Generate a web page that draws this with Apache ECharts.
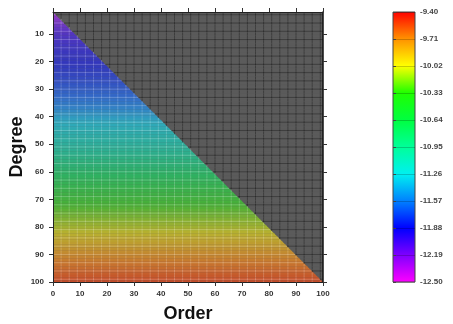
<!DOCTYPE html>
<html>
<head>
<meta charset="utf-8">
<script src="https://cdn.jsdelivr.net/npm/echarts@6/dist/echarts.min.js"></script>
<style>
  html, body { margin: 0; padding: 0; background: #fff; }
  #chart { width: 453px; height: 324px; }
</style>
</head>
<body>
<div id="chart"></div>
<script>
// value per degree row (degree 2 .. 100)
const rowValues = [
  -12.45, -12.42, -12.38, -12.34, -12.30, -12.26, -12.22, -12.18, -12.14,
  -12.10, -12.07, -12.04, -12.01, -11.98, -11.96, -11.94, -11.92, -11.90, -11.89,
  -11.88, -11.86, -11.84, -11.82, -11.80, -11.78, -11.76, -11.73, -11.70, -11.68,
  -11.65, -11.62, -11.59, -11.56, -11.53, -11.50, -11.47, -11.43, -11.39, -11.35,
  -11.31, -11.27, -11.23, -11.19, -11.15, -11.12, -11.08, -11.05, -11.02, -10.99,
  -10.96, -10.93, -10.90, -10.87, -10.84, -10.81, -10.78, -10.75, -10.72, -10.69,
  -10.66, -10.63, -10.60, -10.57, -10.54, -10.51, -10.48, -10.45, -10.42, -10.39,
  -10.36, -10.33, -10.30, -10.27, -10.24, -10.21, -10.18, -10.15, -10.12, -10.09,
  -10.06, -10.03, -10.00, -9.97, -9.94, -9.91, -9.88, -9.85, -9.82, -9.79,
  -9.76, -9.73, -9.70, -9.67, -9.64, -9.61, -9.58, -9.55, -9.52, -9.49
];
const degrees = rowValues.map((v, i) => i + 2);

const degreeTicks = [10, 20, 30, 40, 50, 60, 70, 80, 90, 100];
const colorbarLabels = ['-12.50', '-12.19', '-11.88', '-11.57', '-11.26', '-10.95',
  '-10.64', '-10.33', '-10.02', '-9.71', '-9.40'];
const valueMin = -12.5;
const valueMax = -9.4;

// colour scale of the bar (bright) and of the field (muted, as printed)
const barColors = ['#ff00ff', '#8000ff', '#0000ff', '#0080ff', '#00f0f0', '#00ff99',
  '#00ff40', '#20ff00', '#ffff00', '#ff9000', '#ff0000'];
const fieldColors = ['#a83ec6', '#5a36c2', '#3438bc', '#3470c8', '#30a8bc', '#2eae96',
  '#30b060', '#4ab038', '#b8b030', '#c87a30', '#c43a28'];

const GRAY = '#5b5b5b';
const LIGHT_LINE = 'rgba(255,255,255,0.22)';
const DARK_LINE = 'rgba(0,0,0,0.32)';
const STEP = 3;
const font = 'Liberation Sans, Arial, sans-serif';

const chart = echarts.init(document.getElementById('chart'), null, { renderer: 'canvas' });

// diagonal edge of the triangle: order limit at a given degree
function diag(y) {
  return (y - 2) * 100 / 98;
}

function renderRow(params, api) {
  const d = api.value(0);
  const top = Math.max(2, d - 0.5);
  const bot = Math.min(100, d + 0.5);
  const p = (x, y) => api.coord([x, y]);
  const children = [];
  children.push({
    type: 'polygon',
    shape: { points: [p(0, top), p(diag(top), top), p(diag(bot), bot), p(0, bot)] },
    style: { fill: api.visual('color'), stroke: api.visual('color'), lineWidth: 0.3 }
  });
  children.push({
    type: 'polygon',
    shape: { points: [p(diag(top), top), p(100, top), p(100, bot), p(diag(bot), bot)] },
    style: { fill: GRAY, stroke: GRAY, lineWidth: 0.3 }
  });
  // texture lines
  for (let g = Math.ceil(top / STEP) * STEP; g < bot; g += STEP) {
    if (g <= 2) continue;
    const a = p(0, g), b = p(diag(g), g), c = p(100, g);
    children.push({ type: 'line', shape: { x1: a[0], y1: a[1], x2: b[0], y2: b[1] },
      style: { stroke: LIGHT_LINE, lineWidth: 1 } });
    children.push({ type: 'line', shape: { x1: b[0], y1: b[1], x2: c[0], y2: c[1] },
      style: { stroke: DARK_LINE, lineWidth: 1 } });
  }
  const mid = diag((top + bot) / 2);
  for (let x = STEP; x < 100; x += STEP) {
    const a = p(x, top), b = p(x, bot);
    children.push({ type: 'line', shape: { x1: a[0], y1: a[1], x2: b[0], y2: b[1] },
      style: { stroke: x < mid ? LIGHT_LINE : DARK_LINE, lineWidth: 1 } });
  }
  return { type: 'group', children: children };
}

function renderBar(params, api) {
  const a = api.coord([0, colorbarLabels.length - 1]);
  const b = api.coord([1, 0]);
  const stops = barColors.map((c, i) => ({ offset: 1 - i / (barColors.length - 1), color: c }));
  return {
    type: 'rect',
    shape: { x: a[0], y: a[1], width: b[0] - a[0], height: b[1] - a[1] },
    style: {
      fill: new echarts.graphic.LinearGradient(0, 0, 0, 1, stops),
      stroke: '#444', lineWidth: 1
    }
  };
}

const axisText = { fontSize: 8, color: '#333', fontFamily: font, fontWeight: 'bold' };

const option = {
  animation: false,
  backgroundColor: '#fff',
  grid: [
    { left: 53, top: 12, width: 270, height: 270, show: true, backgroundColor: GRAY,
      borderWidth: 0, containLabel: false, outerBoundsMode: 'none' },
    { left: 393, top: 12, width: 22, height: 270, containLabel: false, outerBoundsMode: 'none' }
  ],
  visualMap: {
    show: false,
    type: 'continuous',
    seriesIndex: 0,
    dimension: 1,
    min: valueMin,
    max: valueMax,
    inRange: { color: fieldColors }
  },
  xAxis: [
    {
      gridIndex: 0, type: 'value', min: 0, max: 100, interval: 10, z: 5,
      name: 'Order', nameLocation: 'middle', nameGap: 23,
      nameTextStyle: { fontSize: 18, fontWeight: 'bold', color: '#111', fontFamily: font },
      axisLine: { show: true, onZero: false, lineStyle: { color: '#222', width: 1 } },
      axisTick: { show: true, length: 4, lineStyle: { color: '#333' } },
      axisLabel: Object.assign({ margin: 8 }, axisText),
      splitLine: { show: false }
    },
    {
      gridIndex: 0, type: 'value', position: 'top', min: 0, max: 100, interval: 10, z: 5,
      axisLine: { show: true, onZero: false, lineStyle: { color: '#222', width: 1 } },
      axisTick: { show: true, length: 4, lineStyle: { color: '#333' } },
      axisLabel: { show: false },
      splitLine: { show: false }
    },
    {
      gridIndex: 1, type: 'value', min: 0, max: 1, show: false
    }
  ],
  yAxis: [
    {
      gridIndex: 0, type: 'value', inverse: true, min: 2, max: 100, z: 5,
      name: 'Degree', nameLocation: 'middle', nameGap: 27, nameRotate: 90,
      nameMoveOverlap: false,
      nameTextStyle: { fontSize: 18, fontWeight: 'bold', color: '#111', fontFamily: font },
      axisLine: { show: true, onZero: false, lineStyle: { color: '#222', width: 1 } },
      axisTick: { show: true, length: 4, customValues: degreeTicks, lineStyle: { color: '#333' } },
      axisLabel: Object.assign({ margin: 9, customValues: degreeTicks }, axisText),
      splitLine: { show: false }
    },
    {
      gridIndex: 0, type: 'value', position: 'right', inverse: true, min: 2, max: 100, z: 5,
      axisLine: { show: true, onZero: false, lineStyle: { color: '#111', width: 1.5 } },
      axisTick: { show: true, length: 4, customValues: degreeTicks, lineStyle: { color: '#333' } },
      axisLabel: { show: false },
      splitLine: { show: false }
    },
    {
      gridIndex: 1, type: 'category', position: 'right', data: colorbarLabels,
      boundaryGap: false, z: 5,
      axisLine: { show: false },
      axisTick: { show: true, length: 3, lineStyle: { color: '#444' } },
      axisLabel: { fontSize: 8, color: '#444', fontFamily: font, fontWeight: 'bold', margin: 5 },
      splitLine: { show: true, lineStyle: { color: 'rgba(0,0,0,0.2)', width: 1 } }
    }
  ],
  series: [
    {
      type: 'custom',
      xAxisIndex: 0,
      yAxisIndex: 0,
      clip: true,
      z: 2,
      encode: { y: 0 },
      renderItem: renderRow,
      data: degrees.map((d, i) => [d, rowValues[i]])
    },
    {
      type: 'custom',
      xAxisIndex: 2,
      yAxisIndex: 2,
      z: 2,
      renderItem: renderBar,
      data: [[0, 0]]
    }
  ]
};

chart.setOption(option);
</script>
</body>
</html>
